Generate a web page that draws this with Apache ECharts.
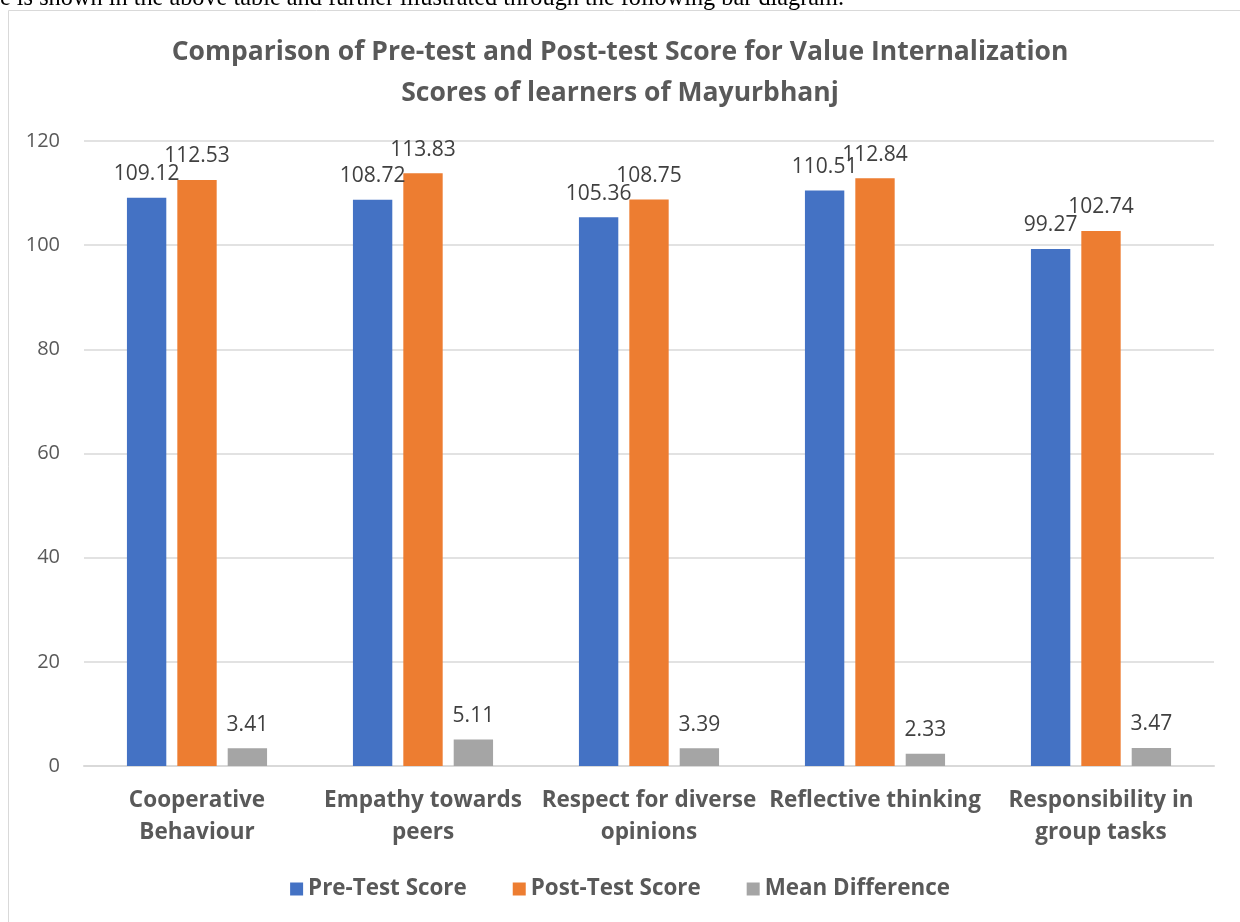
<!DOCTYPE html>
<html><head><meta charset="utf-8">
<script src="https://cdn.jsdelivr.net/npm/echarts@6/dist/echarts.min.js"></script>
<style>html,body{margin:0;padding:0;background:#fff}#c{width:1240px;height:922px}</style>
</head><body><div id="c"></div>
<script>
const categories = ["Cooperative\nBehaviour", "Empathy towards\npeers", "Respect for diverse\nopinions", "Reflective thinking", "Responsibility in\ngroup tasks"];
const preTest = [109.12, 108.72, 105.36, 110.51, 99.27];
const postTest = [112.53, 113.83, 108.75, 112.84, 102.74];
const meanDiff = [3.41, 5.11, 3.39, 2.33, 3.47];
const seriesNames = ["Pre-Test Score", "Post-Test Score", "Mean Difference"];
const colors = ["#4472c4", "#ed7d31", "#a5a5a5"];

const font = "'Open Sans', 'Liberation Sans', sans-serif";
const chart = echarts.init(document.getElementById('c'), null, {renderer: 'canvas'});
const mk = (name, data, color) => ({
  name, type: 'bar', data, barGap: '28%', barCategoryGap: '38%',
  itemStyle: {color},
  label: {show: true, position: 'top', distance: 13, color: '#404040', fontSize: 21, fontFamily: font}
});
chart.setOption({
  animation: false,
  graphic: [
    {type: 'rect', shape: {x: 8.5, y: 10.5, width: 1240, height: 920}, style: {fill: 'none', stroke: '#d9d9d9', lineWidth: 1}},
    {type: 'text', left: 0, top: -13, style: {text: 'e is shown in the above table and further illustrated through the following bar diagram.', font: "24.3px 'Liberation Serif', serif", fill: '#000'}}
  ],
  title: {
    text: 'Comparison of Pre-test and Post-test Score for Value Internalization\nScores of learners of Mayurbhanj',
    left: 'center', top: 27,
    textStyle: {fontFamily: font, fontSize: 26.5, fontWeight: 'bold', color: '#595959', lineHeight: 41}
  },
  legend: {
    bottom: 17, left: 'center', itemWidth: 13, itemHeight: 13, itemGap: 46,
    icon: 'rect',
    textStyle: {fontFamily: font, fontSize: 22.4, fontWeight: 'bold', color: '#595959'},
    data: seriesNames
  },
  grid: {left: 84, right: 26, top: 141, bottom: 156},
  xAxis: {
    type: 'category', data: categories,
    axisLine: {lineStyle: {color: '#d9d9d9', width: 2}},
    axisTick: {show: false},
    axisLabel: {fontFamily: font, fontSize: 22.5, fontWeight: 'bold', color: '#595959', lineHeight: 32, margin: 19, interval: 0}
  },
  yAxis: {
    type: 'value', min: 0, max: 120, interval: 20,
    axisLine: {show: false}, axisTick: {show: false},
    splitLine: {lineStyle: {color: '#d9d9d9', width: 1.5}},
    axisLabel: {fontFamily: font, fontSize: 20, color: '#595959', margin: 24}
  },
  series: [mk(seriesNames[0], preTest, colors[0]), mk(seriesNames[1], postTest, colors[1]), mk(seriesNames[2], meanDiff, colors[2])]
});
</script></body></html>
